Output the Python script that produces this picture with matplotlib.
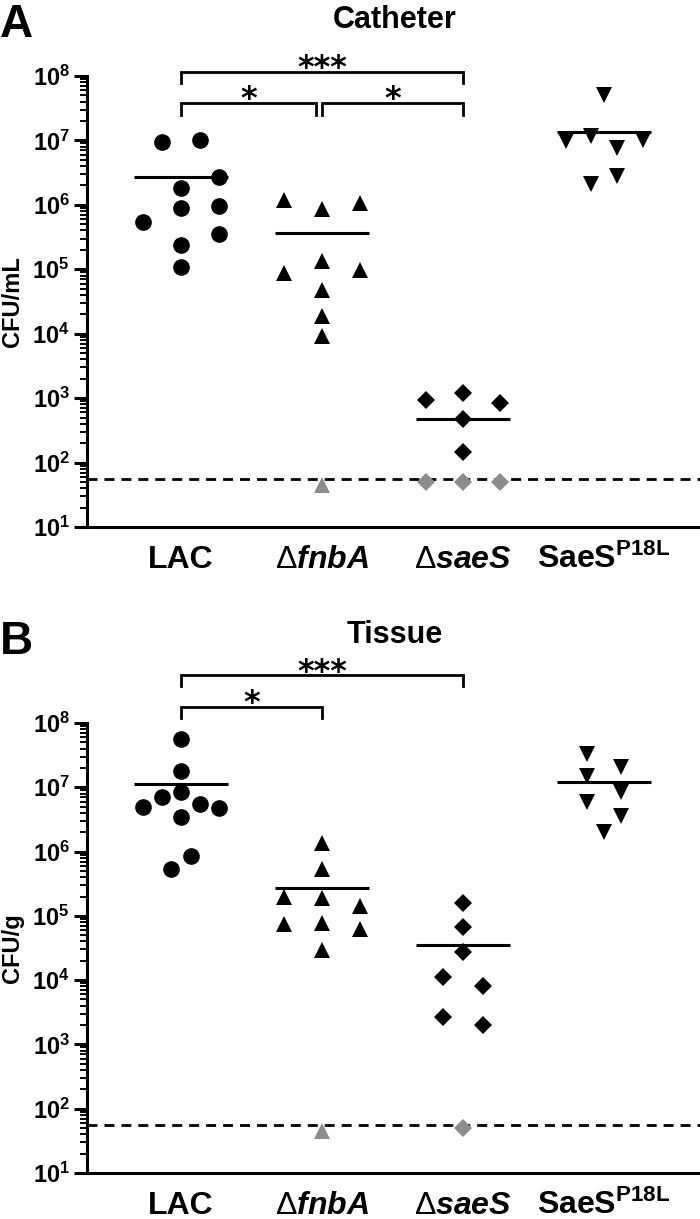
import matplotlib
matplotlib.use('Agg')
import matplotlib.pyplot as plt
from matplotlib.ticker import LogLocator, FixedLocator, NullFormatter

plt.rcParams['font.family'] = ['Liberation Sans', 'DejaVu Sans']
plt.rcParams['mathtext.fontset'] = 'custom'
plt.rcParams['mathtext.rm'] = 'Liberation Sans'
plt.rcParams['mathtext.bf'] = 'Liberation Sans:bold'
plt.rcParams['mathtext.it'] = 'Liberation Sans:italic'
plt.rcParams['mathtext.bfit'] = 'Liberation Sans:italic:bold'

# ---------------- data ----------------
categories = ['LAC', r'$\Delta\mathbfit{fnbA}$', r'$\Delta\mathbfit{saeS}$',
              r'$\mathbf{SaeS^{P18L}}$']
ytick_exponents = [1, 2, 3, 4, 5, 6, 7, 8]
detection_limit = 56

# Panel A: catheter (CFU/mL)
cath_lac = [9.4e6, 1.0e7, 2.7e6, 1.8e6, 9.0e5, 9.7e5, 5.5e5, 3.5e5, 2.4e5, 1.07e5]
cath_fnba = [1.17e6, 8.7e5, 1.07e6, 8.7e4, 1.35e5, 9.8e4, 4.8e4, 1.9e4, 9.2e3]
cath_fnba_lod = [45]
cath_saes = [9.4e2, 1.2e3, 8.3e2, 4.7e2, 1.47e2]
cath_saes_lod = [50, 50, 50]
cath_p18l = [5.1e7, 9.8e6, 1.17e7, 1.02e7, 7.6e6, 2.8e6, 2.1e6]
cath_means = [2.7e6, 3.6e5, 4.7e2, 1.35e7]

# Panel B: tissue (CFU/g)
tis_lac = [5.6e7, 1.8e7, 7.1e6, 8.5e6, 4.9e6, 5.5e6, 4.8e6, 3.5e6, 8.5e5, 5.4e5]
tis_fnba = [1.35e6, 5.4e5, 2.0e5, 1.9e5, 1.4e5, 7.6e4, 7.8e4, 6.2e4, 2.9e4]
tis_fnba_lod = [45]
tis_saes = [1.56e5, 6.6e4, 2.7e4, 1.1e4, 8.2e3, 2.7e3, 2.0e3]
tis_saes_lod = [50]
tis_p18l = [3.3e7, 2.1e7, 1.5e7, 8.5e6, 6.0e6, 3.6e6, 2.0e6]
tis_means = [1.11e7, 2.7e5, 3.5e4, 1.22e7]

# ---------------- layout (scatter jitter, not data) ----------------
cath_lac_dx = [-0.135, 0.135, 0.27, 0, 0, 0.27, -0.27, 0.27, 0, 0]
cath_fnba_dx = [-0.27, 0, 0.27, -0.27, 0, 0.27, 0, 0, 0]
cath_fnba_lod_dx = [0]
cath_saes_dx = [-0.26, 0, 0.26, 0, 0]
cath_saes_lod_dx = [-0.26, 0, 0.26]
cath_p18l_dx = [0, -0.27, -0.09, 0.28, 0.09, 0.09, -0.09]

tis_lac_dx = [0, 0, -0.135, 0, -0.27, 0.135, 0.27, 0, 0.07, -0.07]
tis_fnba_dx = [0, 0, -0.27, 0, 0.27, -0.27, 0, 0.27, 0]
tis_fnba_lod_dx = [0]
tis_saes_dx = [0, 0, 0, -0.14, 0.14, -0.14, 0.14]
tis_saes_lod_dx = [0]
tis_p18l_dx = [-0.12, 0.12, -0.12, 0.12, -0.12, 0.12, 0]

GRAY = '#8c8c8c'
LW = 2.2
W, H = 700, 1219

fig = plt.figure(figsize=(W / 100, H / 100), dpi=100)


def px_axes(left, top, right, bottom):
    return fig.add_axes([left / W, 1 - bottom / H, (right - left) / W, (bottom - top) / H])


def draw_panel(ax, groups, means, ylabel, brackets):
    markers = ['o', '^', 'D', 'v']
    sizes = [12.0, 12.0, 9.3, 12.0]
    for i, (vals, dx, lod, lod_dx) in enumerate(groups):
        ax.plot([i + d for d in dx], vals, linestyle='none', marker=markers[i],
                markersize=sizes[i], color='black', markeredgewidth=0, zorder=3)
        if lod:
            ax.plot([i + d for d in lod_dx], lod, linestyle='none', marker=markers[i],
                    markersize=sizes[i], color=GRAY, markeredgewidth=0, zorder=3)
        ax.hlines(means[i], i - 0.333, i + 0.333, color='black', lw=LW, zorder=4)
    ax.axhline(detection_limit, color='black', lw=2.0, linestyle=(0, (3.6, 2.5)), zorder=2)

    ax.set_yscale('log')
    ax.set_ylim(10, 1e8)
    ax.set_xlim(-0.667, 3.681)
    for s in ['top', 'right']:
        ax.spines[s].set_visible(False)
    for s in ['left', 'bottom']:
        ax.spines[s].set_linewidth(LW)
    ax.yaxis.set_major_locator(FixedLocator([10.0 ** e for e in ytick_exponents]))
    ax.set_yticklabels([r'$\mathbf{10^{%d}}$' % e for e in ytick_exponents])
    ax.yaxis.set_minor_locator(LogLocator(base=10, subs=range(2, 10), numticks=20))
    ax.yaxis.set_minor_formatter(NullFormatter())
    ax.tick_params(axis='y', which='major', length=9.5, width=LW, labelsize=17, pad=3)
    ax.tick_params(axis='y', which='minor', length=5, width=1.4)
    ax.set_xticks(range(len(categories)))
    ax.set_xticklabels(categories, fontsize=23, fontweight='bold')
    ax.tick_params(axis='x', length=0, pad=29.5)
    for lab in ax.get_xticklabels():
        lab.set_va('baseline')
    ax.set_ylabel(ylabel, fontsize=17, fontweight='bold')
    ax.yaxis.set_label_coords(-0.103, 0.5)

    for (x0, x1, y_top, y_leg, stars) in brackets:
        yt, yl = 10 ** y_top, 10 ** y_leg
        ax.plot([x0, x0, x1, x1], [yl, yt, yt, yl], color='black', lw=2.0,
                clip_on=False, solid_joinstyle='miter', zorder=5)
        ax.annotate(stars, xy=((x0 + x1) / 2, yt), xytext=(0, -4.0),
                    textcoords='offset points', ha='center', va='baseline',
                    fontsize=23, fontweight='bold', family='DejaVu Sans',
                    annotation_clip=False)


axA = px_axes(87, 76, 700, 527)
axB = px_axes(87, 723, 700, 1173)

draw_panel(axA,
           [(cath_lac, cath_lac_dx, [], []),
            (cath_fnba, cath_fnba_dx, cath_fnba_lod, cath_fnba_lod_dx),
            (cath_saes, cath_saes_dx, cath_saes_lod, cath_saes_lod_dx),
            (cath_p18l, cath_p18l_dx, [], [])],
           cath_means, 'CFU/mL',
           [(0, 2, 8.067, 7.89, '***'),
            (0, 0.955, 7.586, 7.395, '*'),
            (1.0, 2, 7.586, 7.395, '*')])

draw_panel(axB,
           [(tis_lac, tis_lac_dx, [], []),
            (tis_fnba, tis_fnba_dx, tis_fnba_lod, tis_fnba_lod_dx),
            (tis_saes, tis_saes_dx, tis_saes_lod, tis_saes_lod_dx),
            (tis_p18l, tis_p18l_dx, [], [])],
           tis_means, 'CFU/g',
           [(0, 2, 8.746, 8.575, '***'),
            (0, 1, 8.254, 8.073, '*')])

fig.text(0 / W, 1 - 3 / H, 'A', fontsize=33, fontweight='bold', ha='left', va='top')
fig.text(0 / W, 1 - 620 / H, 'B', fontsize=33, fontweight='bold', ha='left', va='top')
fig.text(395 / W, 1 - 5 / H, 'Catheter', fontsize=22, fontweight='bold', ha='center', va='top')
fig.text(395 / W, 1 - 620 / H, 'Tissue', fontsize=22, fontweight='bold', ha='center', va='top')

fig.savefig('out.png', dpi=100)
